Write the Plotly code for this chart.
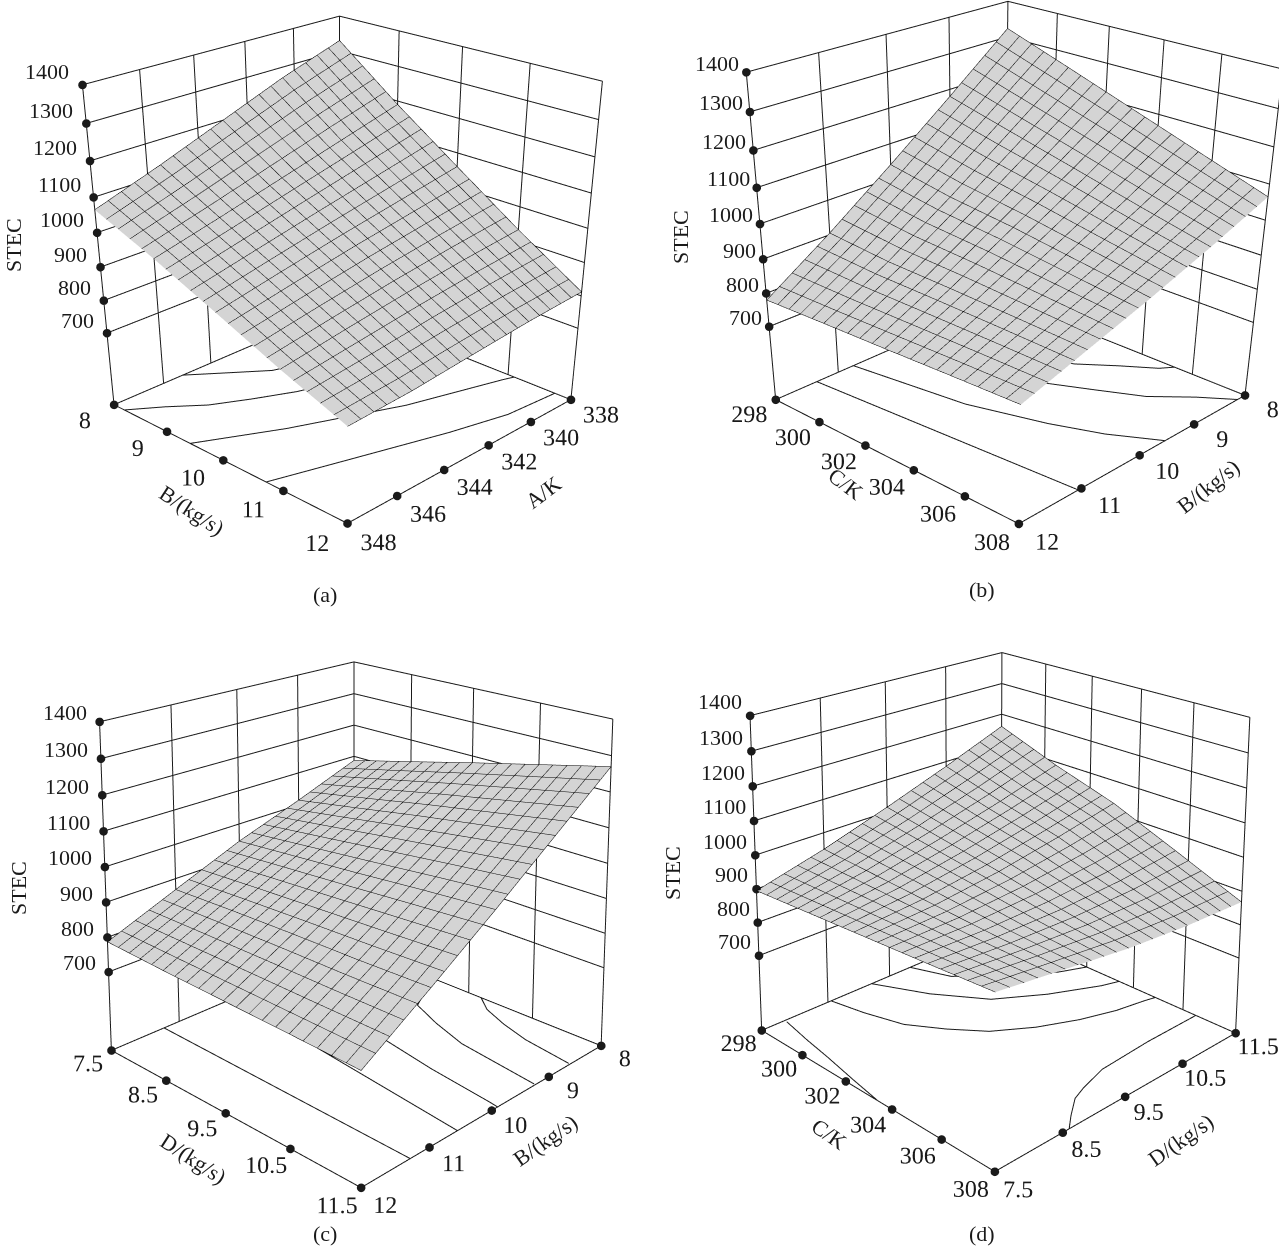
import math
import plotly.graph_objects as go

FONT = "Liberation Serif"
INK = "#1a1a1a"
SURF = "#d4d4d4"
Z_TICKS = [700, 800, 900, 1000, 1100, 1200, 1300, 1400]
Z_FLOOR = 470
PAD = 0.01

a_x = [338, 340.5, 343, 345.5, 348]
a_y = [8, 9, 10, 11, 12]
a_z = [[1330, 1270, 1200, 1130, 1065],
       [1190, 1140, 1090, 1040, 992],
       [1060, 1025, 990, 952, 912],
       [932, 912, 888, 860, 830],
       [812, 800, 783, 765, 755]]
a_xticks = [338, 340, 342, 344, 346, 348]
a_yticks = [8, 9, 10, 11, 12]
a_levels = [
    ([348, 345.5, 342.2, 340.1, 338], [10.72, 11.04, 11.46, 11.68, 11.75]),
    ([348, 345.4, 341.8, 338.4, 338], [9.42, 9.98, 10.62, 11.04, 11.1]),
    ([348, 347, 346, 344.8, 343.5, 340.5, 338], [8.2, 8.5, 8.85, 9.12, 9.38, 9.8, 10.1]),
    ([345.2, 344, 343, 340.5, 338], [8, 8.4, 8.73, 9.1, 9.3]),
]
b_x = [8, 9, 10, 11, 12]
b_y = [298, 300.5, 303, 305.5, 308]
b_z = [[1324, 1180, 1040, 905, 780],
       [1260, 1133, 1007, 890, 788],
       [1195, 1087, 985, 885, 795],
       [1130, 1040, 957, 878, 803],
       [1065, 995, 930, 870, 810]]
b_xticks = [8, 9, 10, 11, 12]
b_yticks = [298, 300, 302, 304, 306, 308]
b_levels = [
    ([11.35, 11.2, 11.05], [298, 303, 308]),
    ([10.75, 10.5, 10.17, 9.9, 9.54], [298, 302.3, 304.9, 306.5, 308]),
    ([10.05, 9.95, 9.44, 9.15, 8.85, 8.45, 8.15], [298, 300.5, 303.1, 304.5, 305.9, 307, 308]),
    ([9.4, 9.2, 8.8, 8.45, 8.16, 8], [298, 300.5, 302.9, 304, 305, 305.3]),
]
c_x = [8, 9, 10, 11, 12]
c_y = [7.5, 8.5, 9.5, 10.5, 11.5]
c_z = [[1087, 1015, 948, 868, 787],
       [1133, 1047, 963, 874, 780],
       [1180, 1080, 978, 878, 775],
       [1225, 1110, 995, 880, 770],
       [1270, 1140, 1010, 885, 764]]
c_xticks = [8, 9, 10, 11, 12]
c_yticks = [7.5, 8.5, 9.5, 10.5, 11.5]
c_levels = [
    ([11.23, 11.29], [7.5, 11.5]),
    ([10.2, 10.29, 10.56], [7.5, 8.92, 11.5]),
    ([9.3, 9.63, 9.77, 9.88, 9.9], [7.5, 9.6, 10.44, 11.37, 11.5]),
    ([8, 8.7, 8.9, 9.08, 9.24], [8.9, 9.27, 9.75, 10.3, 11.48]),
    ([8, 8.2, 8.36, 8.49, 8.6], [9.7, 9.96, 10.35, 10.78, 11.48]),
]
d_x = [7.5, 8.5, 9.5, 10.5, 11.5]
d_y = [298, 300.5, 303, 305.5, 308]
d_z = [[895, 950, 1015, 1085, 1160],
       [906, 940, 985, 1035, 1090],
       [917, 930, 955, 990, 1030],
       [928, 920, 920, 930, 950],
       [940, 915, 890, 875, 868]]
d_xticks = [7.5, 8.5, 9.5, 10.5, 11.5]
d_yticks = [298, 300, 302, 304, 306, 308]
d_levels = [
    ([7.84, 7.75, 7.68, 7.58, 7.5], [298.1, 299.4, 300.6, 302.1, 303.4]),
    ([11.5, 10.6, 9.75, 9.3, 9.08, 8.8, 8.6], [306.5, 306.5, 306.6, 306.9, 307.1, 307.6, 308]),
    ([8.55, 8.65, 8.81, 9.1, 9.43, 9.9, 10.41, 10.9, 11.34, 11.5],
     [298, 299.3, 300.7, 301.8, 302.8, 303.6, 304.2, 304.6, 304.8, 304.9]),
    ([9.2, 9.55, 10, 10.6, 11.25, 11.5], [298, 299.8, 301.4, 302.4, 303.2, 303.4]),
    ([9.85, 10.06, 10.6, 11.13, 11.5], [298, 299.4, 300.6, 301.6, 302]),
]

W, H = 1279, 1247
F = (H / 2) / math.tan(math.pi / 8)


def camera(left, right, bx, by, elev, azim, dist):
    sx = (left + right) / 2
    sy = H / 2
    e, a = math.radians(elev), math.radians(azim)
    eye0 = [dist * math.cos(e) * math.cos(a), dist * math.cos(e) * math.sin(a), dist * math.sin(e)]
    fw = [-v / dist for v in eye0]
    r = [fw[1], -fw[0], 0.0]
    n = math.hypot(r[0], r[1])
    r = [v / n for v in r]
    u = [r[1] * fw[2] - r[2] * fw[1], r[2] * fw[0] - r[0] * fw[2], r[0] * fw[1] - r[1] * fw[0]]
    vx = (bx - sx) / F * dist
    vy = -(by - sy) / F * dist
    c = [-vx * r[i] - vy * u[i] for i in range(3)]
    return dict(eye=dict(x=eye0[0] + c[0], y=eye0[1] + c[1], z=eye0[2] + c[2]),
                center=dict(x=c[0], y=c[1], z=c[2]), up=dict(x=0, y=0, z=1),
                projection=dict(type="perspective"))


def label(text, xy, angle=0, size=22):
    return dict(text=text, x=xy[0] / W, y=1 - xy[1] / H, xref="paper", yref="paper", showarrow=False,
                xanchor="center", yanchor="middle", textangle=angle, font=dict(family=FONT, size=size, color=INK))


PANELS = [
    dict(name="scene", x=a_x, y=a_y, z=a_z, xt=a_xticks, yt=a_yticks, lv=a_levels, dom=(0, 684), rev=False,
         cam=(35.763, 43.864, 4.393, 1.008, 0.971, 343.198, 252.888), zshift=(-11, 13), ticklen=12,
         texts=[("(a)", (325, 595), 0), ("STEC", (13, 245), -90), ("B/(kg/s)", (192, 510), 33), ("A/K", (543, 492), -37)]),
    dict(name="scene2", x=b_x, y=b_y, z=b_z, xt=b_xticks, yt=b_yticks, lv=b_levels, dom=(681, 1279), rev=False,
         cam=(36.261, 44.072, 4.264, 1.007, 0.965, 1012.966, 244.987), zshift=(-5, 9), ticklen=9,
         texts=[("(b)", (982, 589), 0), ("STEC", (680, 237), -90), ("C/K", (845, 484), 37), ("B/(kg/s)", (1208, 486), -38)]),
    dict(name="scene3", x=c_x, y=c_y, z=c_z, xt=c_xticks, yt=c_yticks, lv=c_levels, dom=(0, 714), rev=False,
         cam=(11.719, 44.036, 4.259, 1.006, 0.982, 357.031, 888.068), zshift=(-11, 9), ticklen=3,
         texts=[("(c)", (325, 1233), 0), ("STEC", (18, 888), -90), ("D/(kg/s)", (193, 1158), 33), ("B/(kg/s)", (545, 1140), -35)]),
    dict(name="scene4", x=d_x, y=d_y, z=d_z, xt=d_xticks, yt=d_yticks, lv=d_levels, dom=(671, 1279), rev=True,
         cam=(13.711, 46.106, 4.411, 1.016, 0.991, 998.825, 878.288), zshift=(-6, 14), ticklen=3,
         texts=[("(d)", (982, 1233), 0), ("STEC", (672, 873), -90), ("C/K", (830, 1134), 35), ("D/(kg/s)", (1180, 1140), -35)]),
]

fig = go.Figure()
annotations = []
for p in PANELS:
    x0, x1 = min(p["xt"]), max(p["xt"])
    y0, y1 = min(p["yt"]), max(p["yt"])
    zt = Z_TICKS[-1]
    xp, yp, zp = (x1 - x0) * PAD, (y1 - y0) * PAD, (zt - Z_FLOOR) * PAD
    back_x = x1 if p["rev"] else x0
    front_x = x0 if p["rev"] else x1
    xrange = [x1 + xp, x0 - xp] if p["rev"] else [x0 - xp, x1 + xp]
    steps = 20
    fig.add_trace(go.Surface(
        x=p["x"], y=p["y"], z=p["z"], scene=p["name"], showscale=False,
        colorscale=[[0, SURF], [1, SURF]], hoverinfo="skip",
        lighting=dict(ambient=1, diffuse=0, specular=0, roughness=1, fresnel=0),
        contours=dict(
            x=dict(show=True, start=x0, end=x1, size=(x1 - x0) / steps, color="black", width=5, highlight=False),
            y=dict(show=True, start=y0, end=y1, size=(y1 - y0) / steps, color="black", width=5, highlight=False),
            z=dict(highlight=False))))
    lx, ly, lz = [], [], []
    for t in p["xt"]:
        lx += [t, t, None]; ly += [y0, y0, None]; lz += [Z_FLOOR, zt, None]
    for t in p["yt"]:
        lx += [back_x, back_x, None]; ly += [t, t, None]; lz += [Z_FLOOR, zt, None]
    lx += [front_x, front_x, back_x, back_x, front_x, None]
    ly += [y0, y1, y1, y0, y0, None]
    lz += [Z_FLOOR] * 5 + [None]
    lx += [front_x, back_x, back_x, None, front_x, front_x, None]
    ly += [y0, y0, y1, None, y0, y0, None]
    lz += [zt] * 3 + [None, Z_FLOOR, zt, None]
    for t in Z_TICKS:
        lx += [front_x, back_x, back_x, None]; ly += [y0, y0, y1, None]; lz += [t, t, t, None]
    fig.add_trace(go.Scatter3d(x=lx, y=ly, z=lz, mode="lines", scene=p["name"], hoverinfo="skip",
                               line=dict(color=INK, width=2), showlegend=False))
    for xs, ys in p["lv"]:
        fig.add_trace(go.Scatter3d(x=xs, y=ys, z=[Z_FLOOR] * len(xs), mode="lines", scene=p["name"], hoverinfo="skip",
                                   line=dict(color=INK, width=2), showlegend=False))
    dx = [front_x] * len(Z_TICKS) + list(p["xt"]) + [front_x] * len(p["yt"])
    dy = [y0] * len(Z_TICKS) + [y1] * len(p["xt"]) + list(p["yt"])
    dz = Z_TICKS + [Z_FLOOR] * (len(p["xt"]) + len(p["yt"]))
    fig.add_trace(go.Scatter3d(x=dx, y=dy, z=dz, mode="markers", scene=p["name"], hoverinfo="skip",
                               marker=dict(size=5, color=INK, line=dict(width=0)), showlegend=False))

    def axis(rng, ticks):
        return dict(title=dict(text=""),
                    range=rng, tickmode="array", tickvals=ticks, ticktext=[str(t) for t in ticks],
                    tickfont=dict(family=FONT, size=17, color=INK), showgrid=False, zeroline=False,
                    showline=False, showbackground=False, ticks="outside", ticklen=p["ticklen"], tickwidth=0,
                    tickcolor="rgba(0,0,0,0)", tickangle=0, showspikes=False)

    zaxis = axis([Z_FLOOR - zp, zt + zp], Z_TICKS)
    zaxis.update(showticklabels=False, ticks="")
    cam = p["cam"]
    zlabels = [dict(x=front_x, y=y0, z=t, text=str(t), showarrow=False, xanchor="right",
                    xshift=p["zshift"][0], yshift=p["zshift"][1], font=dict(family=FONT, size=22, color=INK))
               for t in Z_TICKS]
    fig.update_layout({p["name"]: dict(
        domain=dict(x=[p["dom"][0] / W, p["dom"][1] / W], y=[0, 1]),
        xaxis=axis(xrange, p["xt"]),
        yaxis=axis([y0 - yp, y1 + yp], p["yt"]),
        zaxis=zaxis,
        annotations=zlabels,
        aspectmode="manual",
        aspectratio=dict(x=cam[3] * (1 + 2 * PAD), y=1 + 2 * PAD, z=cam[4] * (1 + 2 * PAD)),
        bgcolor="rgba(0,0,0,0)",
        camera=camera(p["dom"][0], p["dom"][1], cam[5], cam[6], cam[0], cam[1], cam[2]),
    )})
    annotations += [label(t, xy, ang) for t, xy, ang in p["texts"]]

fig.update_layout(width=W, height=H, autosize=False, margin=dict(l=0, r=0, t=0, b=0),
                  paper_bgcolor="white", showlegend=False, annotations=annotations)
fig.write_html("out.html", post_script="document.body.style.margin='0';", config=dict(displayModeBar=False))
